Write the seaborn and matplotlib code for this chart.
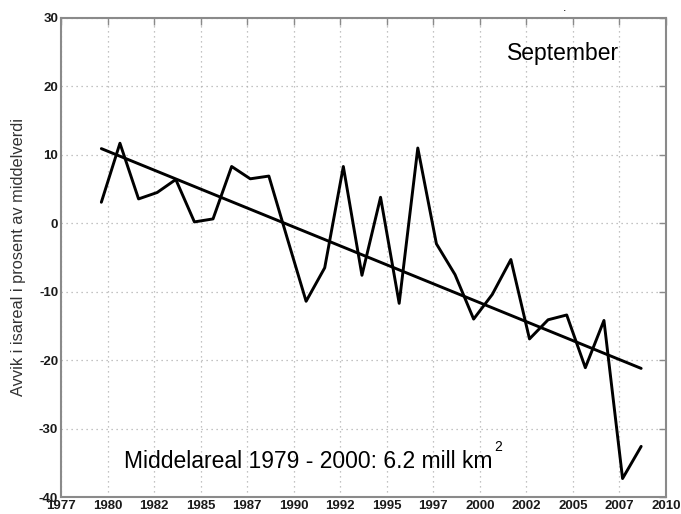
import numpy as np
import pandas as pd
import matplotlib
matplotlib.use("Agg")
import matplotlib.pyplot as plt
import seaborn as sns

# Data
years = list(range(1979, 2009))
anomaly = [3.07, 11.7, 3.56, 4.5, 6.4, 0.2, 0.64, 8.3, 6.5, 6.9,
           -2.3, -11.4, -6.5, 8.3, -7.6, 3.8, -11.7, 11.0, -3.0, -7.5,
           -14.0, -10.4, -5.3, -16.9, -14.1, -13.4, -21.1, -14.2, -37.3, -32.6]
xtick_labels = ["1977", "1980", "1982", "1985", "1987", "1990", "1992",
                "1995", "1997", "2000", "2002", "2005", "2007", "2010"]
ytick_values = [-40, -30, -20, -10, 0, 10, 20, 30]

sns.set_style("white")
plt.rcParams['font.family'] = ['Liberation Sans', 'DejaVu Sans']

df = pd.DataFrame({"year": years, "anomaly": anomaly})
df["pos"] = df["year"] + 8 / 12.0  # September position within year

fig = plt.figure(figsize=(6.81, 5.14), dpi=100)
ax = fig.add_axes([61 / 681, 1 - 497 / 514, (666 - 61) / 681, (497 - 18) / 514])

sns.lineplot(data=df, x="pos", y="anomaly", ax=ax, color="black", linewidth=2.1)
sns.regplot(data=df, x="pos", y="anomaly", ax=ax, scatter=False, ci=None,
            line_kws=dict(color="black", linewidth=2.1))

ax.set_xlim(1977.5, 2010)
ax.set_ylim(-40, 30)
xticks = [1977.5 + 2.5 * i for i in range(len(xtick_labels))]
ax.set_xticks(xticks)
ax.set_xticklabels(xtick_labels)
ax.set_yticks(ytick_values)
ax.set_yticklabels([str(v) for v in ytick_values])

ax.grid(True, linestyle=(0, (1, 3)), color="#b0b0b0", linewidth=0.9)
for s in ax.spines.values():
    s.set_visible(True)
    s.set_color("#8a8a8a")
    s.set_linewidth(1.5)
ax.tick_params(direction="in", length=5, width=1, color="#8a8a8a",
               top=True, right=True, labelsize=9.5, labelcolor="#1a1a1a")
ax.tick_params(axis="x", pad=2)
ax.tick_params(axis="y", pad=2)
for lbl in ax.get_xticklabels() + ax.get_yticklabels():
    lbl.set_fontweight("bold")

ax.set_xlabel("")
ax.set_ylabel("Avvik i isareal i prosent av middelverdi", fontsize=11.8,
              color="#333333", labelpad=9)

ax.text(0.737, 0.925, "September", transform=ax.transAxes, fontsize=16.5,
        color="black", ha="left", va="center")
main = ax.text(0.104, 0.075, "Middelareal 1979 - 2000: 6.2 mill km",
               transform=ax.transAxes, fontsize=16.5, color="black",
               ha="left", va="center")
ax.annotate("2", xy=(1, 1), xycoords=main, xytext=(1, 2),
            textcoords="offset points", fontsize=10, color="black",
            ha="left", va="center")
fig.text(565 / 681, 1 - 8 / 514, ".", fontsize=9, color="black", ha="center", va="center")

fig.savefig("out.png", dpi=100)
